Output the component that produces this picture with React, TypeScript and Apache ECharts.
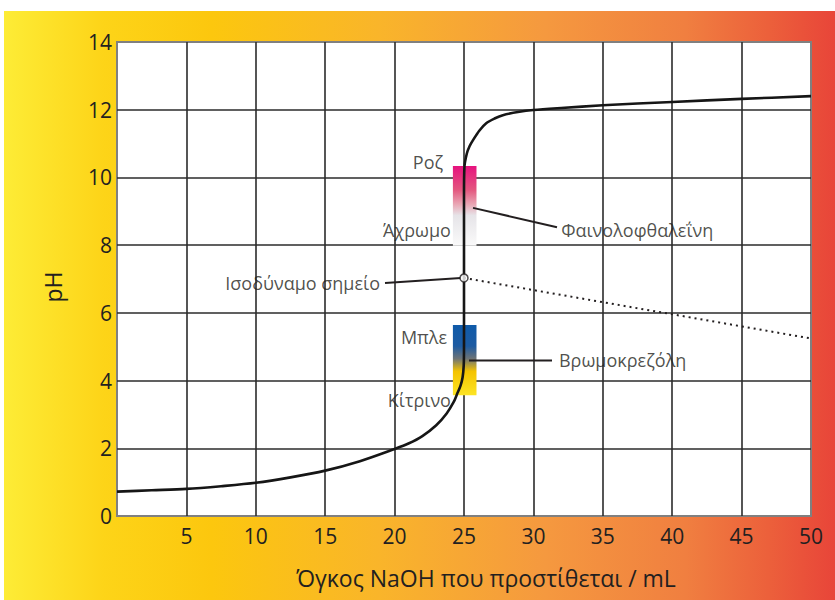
import React, { useEffect, useRef } from "react";
import * as echarts from "echarts";

// Titration curve (volume NaOH in mL, pH)
const volume = [0, 2.5, 5, 7.5, 10, 12.5, 15, 17.5, 20, 21, 22, 23, 23.75, 24.25, 24.5, 24.75, 24.9, 24.98, 25, 25, 25.03, 25.2, 25.4, 25.65, 26.1, 26.6, 27.2, 27.8, 29, 30, 32, 35, 40, 45, 50];
const pH = [0.72, 0.76, 0.8, 0.88, 0.98, 1.14, 1.34, 1.62, 1.98, 2.14, 2.36, 2.68, 3.03, 3.36, 3.6, 3.85, 4.1, 4.45, 5.0, 9.5, 10.3, 10.7, 10.92, 11.1, 11.38, 11.6, 11.74, 11.84, 11.94, 11.99, 12.05, 12.13, 12.23, 12.32, 12.4];

const xTicks = [0, 5, 10, 15, 20, 25, 30, 35, 40, 45, 50];
const yTicks = [0, 2, 4, 6, 8, 10, 12, 14];

// Equivalence point and dotted extension
const equivalencePoint = [25, 7.03];
const dottedEnd = [51.73, 5.12];

// Indicator ranges: [vol from, vol to, pH top, pH bottom]
const phenolRange = [24.2, 25.9, 10.34, 7.98];
const bromoRange = [24.2, 25.9, 5.64, 3.57];

// Leader lines
const phenolLeader = [[25.65, 9.1], [31.7, 8.53]];
const equivLeader = [[19.31, 6.88], [24.78, 7.03]];
const bromoLeader = [[25.36, 4.59], [31.34, 4.59]];

// Annotations: [vol, pH, text, align]
const annotations: [number, number, string, string][] = [
  [23.5, 10.46, "Ροζ", "right"],
  [24.06, 8.45, "Άχρωμο", "right"],
  [32.0, 8.46, "Φαινολοφθαλεΐνη", "left"],
  [18.95, 6.88, "Ισοδύναμο σημείο", "right"],
  [23.78, 5.28, "Μπλε", "right"],
  [31.84, 4.6, "Βρωμοκρεζόλη", "left"],
  [24.06, 3.43, "Κίτρινο", "right"],
];

const xTitle = "Όγκος NaOH που προστίθεται / mL";
const yTitle = "pH";

const FONT = "'Open Sans', 'Noto Sans', sans-serif";
const INK = "#231f20";

export default function App() {
  const ref = useRef<HTMLDivElement>(null);
  useEffect(() => {
    if (!ref.current) return;
    const chart = echarts.init(ref.current, null, { renderer: "svg" });
    const curve = volume.map((v, i) => [v, pH[i]]);
    const leaderSeries = [phenolLeader, equivLeader, bromoLeader].map((d) => ({
      type: "line",
      data: d,
      symbol: "none",
      lineStyle: { color: INK, width: 2 },
      z: 4,
      silent: true,
    }));
    chart.setOption({
      animation: false,
      backgroundColor: "#ffffff",
      textStyle: { fontFamily: FONT },
      grid: {
        left: 117,
        right: 24,
        top: 42,
        bottom: 84,
        show: true,
        backgroundColor: "#ffffff",
        borderColor: "#808080",
        borderWidth: 2,
      },
      graphic: [
        {
          type: "rect",
          z: -100,
          silent: true,
          shape: { x: 4, y: 11, width: 831, height: 589 },
          style: {
            fill: new echarts.graphic.LinearGradient(0, 0, 1, 0, [
              { offset: 0, color: "#fdec36" },
              { offset: 0.12, color: "#fdd418" },
              { offset: 0.25, color: "#fcc70e" },
              { offset: 0.45, color: "#f9b52a" },
              { offset: 0.65, color: "#f5993f" },
              { offset: 0.82, color: "#f07f40" },
              { offset: 0.92, color: "#ec603b" },
              { offset: 1, color: "#e84539" },
            ]),
          },
        },
        {
          type: "text",
          x: 486,
          y: 578,
          style: {
            text: xTitle,
            fill: INK,
            font: `23px ${FONT}`,
            textAlign: "center",
            textVerticalAlign: "middle",
          },
        },
        {
          type: "text",
          x: 53,
          y: 287,
          rotation: Math.PI / 2,
          style: {
            text: yTitle,
            fill: INK,
            font: `23px ${FONT}`,
            textAlign: "center",
            textVerticalAlign: "middle",
          },
        },
      ],
      xAxis: {
        type: "value",
        min: xTicks[0],
        max: xTicks[xTicks.length - 1],
        interval: 5,
        axisLine: { show: false },
        axisTick: { show: false },
        axisLabel: {
          showMinLabel: false,
          color: INK,
          fontSize: 21,
          margin: 9,
          fontFamily: FONT,
        },
        splitLine: {
          show: true,
          showMinLine: false,
          showMaxLine: false,
          lineStyle: { color: "#2b2b2b", width: 1.6 },
        },
      },
      yAxis: {
        type: "value",
        min: yTicks[0],
        max: yTicks[yTicks.length - 1],
        interval: 2,
        axisLine: { show: false },
        axisTick: { show: false },
        axisLabel: {
          color: INK,
          fontSize: 21,
          margin: 5,
          fontFamily: FONT,
          padding: [5, 0, 0, 0],
        },
        splitLine: {
          show: true,
          showMinLine: false,
          showMaxLine: false,
          lineStyle: { color: "#2b2b2b", width: 1.6 },
        },
      },
      series: [
        {
          type: "line",
          data: [],
          markArea: {
            silent: true,
            data: [
              [
                {
                  coord: [phenolRange[0], phenolRange[2]],
                  itemStyle: {
                    color: new echarts.graphic.LinearGradient(0, 0, 0, 1, [
                      { offset: 0, color: "#e6127e" },
                      { offset: 0.3, color: "#e3577f" },
                      { offset: 0.48, color: "#e9a6b4" },
                      { offset: 0.62, color: "#e6e4e8" },
                      { offset: 1, color: "#fafafa" },
                    ]),
                    opacity: 1,
                  },
                },
                { coord: [phenolRange[1], phenolRange[3]] },
              ],
              [
                {
                  coord: [bromoRange[0], bromoRange[2]],
                  itemStyle: {
                    color: new echarts.graphic.LinearGradient(0, 0, 0, 1, [
                      { offset: 0, color: "#0f5aa9" },
                      { offset: 0.3, color: "#1d5ba2" },
                      { offset: 0.48, color: "#6e7476" },
                      { offset: 0.66, color: "#f4c300" },
                      { offset: 1, color: "#fde424" },
                    ]),
                    opacity: 1,
                  },
                },
                { coord: [bromoRange[1], bromoRange[3]] },
              ],
            ],
          },
        },
        {
          type: "line",
          data: [equivalencePoint, dottedEnd],
          symbol: "none",
          clip: false,
          lineStyle: { color: INK, width: 2, type: [2, 4] },
          z: 3,
          silent: true,
        },
        ...leaderSeries,
        {
          type: "line",
          data: curve,
          symbol: "none",
          smooth: 0.3,
          lineStyle: { color: "#161616", width: 2.6 },
          z: 5,
          silent: true,
        },
        {
          type: "scatter",
          data: [equivalencePoint],
          symbol: "circle",
          symbolSize: 8,
          itemStyle: { color: "#ffffff", borderColor: INK, borderWidth: 1.5 },
          z: 6,
          silent: true,
        },
        {
          type: "scatter",
          data: annotations.map((a) => ({
            value: [a[0], a[1]],
            label: {
              show: true,
              position: "inside",
              formatter: a[2],
              align: a[3],
              verticalAlign: "middle",
              color: INK,
              fontSize: 18,
              fontFamily: FONT,
            },
          })),
          symbolSize: 0,
          z: 7,
          silent: true,
        },
      ],
    });
    return () => chart.dispose();
  }, []);
  return (
    <div
      ref={ref}
      style={{ position: "absolute", left: 0, top: 0, width: 835, height: 600 }}
    />
  );
}
